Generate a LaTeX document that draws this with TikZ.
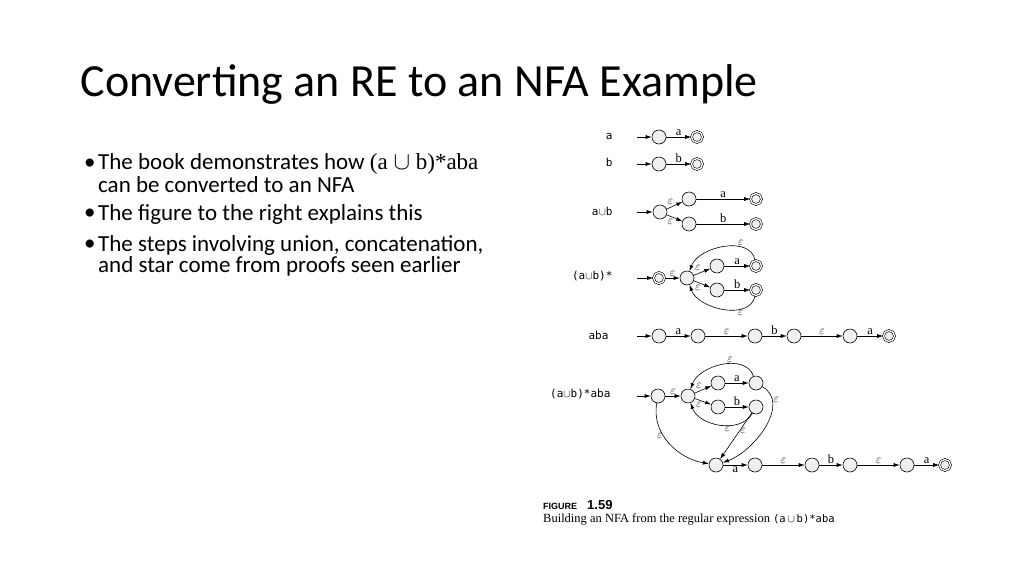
\documentclass[tikz,border=0pt]{standalone}
\usepackage{fontspec}
\setmainfont{Carlito}
\newfontfamily\figmono{DejaVu Sans Mono}
\newfontfamily\figserif{Liberation Serif}
\newfontfamily\figsans{Liberation Sans}
\usetikzlibrary{arrows.meta, positioning}

\tikzset{
  st/.style={circle, draw, fill=gray!12, minimum size=14pt, inner sep=0pt, line width=0.6pt},
  acc/.style={st, double, double distance=1.3pt, minimum size=11pt},
  tr/.style={-{Latex[length=6pt,width=4pt]}, line width=0.6pt},
  lbl/.style={font=\figserif\fontsize{12.5}{12.5}\selectfont, inner sep=1pt},
  rowname/.style={font=\figmono\fontsize{11}{11}\selectfont, anchor=east}
}

\begin{document}
\begin{tikzpicture}[x=1pt, y=-1pt]
  \useasboundingbox (0,0) rectangle (1024,576);

  % title and bullets
  \node[anchor=west, font=\fontsize{46}{46}\selectfont] (title) at (77,84) {Converting an RE to an NFA Example};
  \begin{scope}[every node/.style={anchor=west, font=\fontsize{23}{23}\selectfont, inner sep=0pt}]
    \node (b1) at (84,164) {\textbullet};
    \node (t1) at (98,164) {The book demonstrates how {\figserif (a $\cup$ b)*aba}};
    \node (t1b) at (98,185) {can be converted to an NFA};
    \node (b2) at (84,214) {\textbullet};
    \node (t2) at (98,214) {The figure to the right explains this};
    \node (b3) at (84,245) {\textbullet};
    \node (t3) at (98,245) {The steps involving union, concatenation,};
    \node (t3b) at (98,266) {and star come from proofs seen earlier};
  \end{scope}

  % row: a
  \node[rowname] (na) at (616,136) {a};
  \node[st] (a1) at (659,137) {};
  \node[acc] (a2) at (697,137) {};
  \coordinate (as) at (637,137);
  \draw[tr] (as) -- (a1);
  \draw[tr] (a1) -- node[lbl, above] {a} (a2);

  % row: b
  \node[rowname] (nb) at (616,162) {b};
  \node[st] (b1s) at (659,164) {};
  \node[acc] (b2s) at (697,164) {};
  \coordinate (bs) at (637,164);
  \draw[tr] (bs) -- (b1s);
  \draw[tr] (b1s) -- node[lbl, above] {b} (b2s);

  % row: a U b
  \node[rowname] (nu) at (616,211) {a$\cup$b};
  \node[st] (u0) at (660,212) {};
  \node[st] (u1) at (689,199) {};
  \node[acc] (u2) at (756,199) {};
  \node[st] (u3) at (689,224) {};
  \node[acc] (u4) at (756,224) {};
  \coordinate (us) at (637,212);
  \draw[tr] (us) -- (u0);
  \draw[tr] (u0) -- node[lbl, above left] {$\varepsilon$} (u1);
  \draw[tr] (u0) -- node[lbl, below left] {$\varepsilon$} (u3);
  \draw[tr] (u1) -- node[lbl, above] {a} (u2);
  \draw[tr] (u3) -- node[lbl, above] {b} (u4);

  % row: (a U b)*
  \node[rowname] (ns) at (616,276) {(a$\cup$b)*};
  \node[acc] (s0) at (659,278) {};
  \node[st] (s1) at (687,278) {};
  \node[st] (s2) at (717,266) {};
  \node[acc] (s3) at (756,266) {};
  \node[st] (s4) at (717,290) {};
  \node[acc] (s5) at (756,290) {};
  \coordinate (ss) at (637,278);
  \draw[tr] (ss) -- (s0);
  \draw[tr] (s0) -- node[lbl, above] {$\varepsilon$} (s1);
  \draw[tr] (s1) -- node[lbl, above left] {$\varepsilon$} (s2);
  \draw[tr] (s1) -- node[lbl, below left] {$\varepsilon$} (s4);
  \draw[tr] (s2) -- node[lbl, above] {a} (s3);
  \draw[tr] (s4) -- node[lbl, above] {b} (s5);
  \draw[tr] (s3) to[out=100, in=70] node[lbl, above, pos=0.3] {$\varepsilon$} (s1);
  \draw[tr] (s5) to[out=-100, in=-70] node[lbl, below, pos=0.3] {$\varepsilon$} (s1);

  % row: aba
  \node[rowname] (nc) at (612,335) {aba};
  \node[st] (c1) at (659,336) {};
  \node[st] (c2) at (698,336) {};
  \node[st] (c3) at (755,336) {};
  \node[st] (c4) at (794,336) {};
  \node[st] (c5) at (850,336) {};
  \node[acc] (c6) at (889,336) {};
  \coordinate (cs) at (637,336);
  \draw[tr] (cs) -- (c1);
  \draw[tr] (c1) -- node[lbl, above] {a} (c2);
  \draw[tr] (c2) -- node[lbl, above] {$\varepsilon$} (c3);
  \draw[tr] (c3) -- node[lbl, above] {b} (c4);
  \draw[tr] (c4) -- node[lbl, above] {$\varepsilon$} (c5);
  \draw[tr] (c5) -- node[lbl, above] {a} (c6);

  % row: (a U b)*aba
  \node[rowname] (nd) at (614,394) {(a$\cup$b)*aba};
  \node[st] (d0) at (658,396) {};
  \node[st] (d1) at (688,396) {};
  \node[st] (d2) at (718,383) {};
  \node[st] (d3) at (756,383) {};
  \node[st] (d4) at (718,407) {};
  \node[st] (d5) at (756,407) {};
  \node[st] (e1) at (716,465) {};
  \node[st] (e2) at (755,465) {};
  \node[st] (e3) at (812,465) {};
  \node[st] (e4) at (850,465) {};
  \node[st] (e5) at (907,465) {};
  \node[acc] (e6) at (945,465) {};
  \coordinate (ds) at (637,396);
  \draw[tr] (ds) -- (d0);
  \draw[tr] (d0) -- node[lbl, above] {$\varepsilon$} (d1);
  \draw[tr] (d1) -- node[lbl, above left] {$\varepsilon$} (d2);
  \draw[tr] (d1) -- node[lbl, below left] {$\varepsilon$} (d4);
  \draw[tr] (d2) -- node[lbl, above] {a} (d3);
  \draw[tr] (d4) -- node[lbl, above] {b} (d5);
  \draw[tr] (d3) to[out=110, in=70] node[lbl, above, pos=0.4] {$\varepsilon$} (d1);
  \draw[tr] (d5) to[out=-120, in=-70] node[lbl, below, pos=0.4] {$\varepsilon$} (d1);
  \draw[tr] (d3) to[out=-30, in=20] node[lbl, right, pos=0.2] {$\varepsilon$} (e1);
  \draw[tr] (d5) -- node[lbl, right, pos=0.4] {$\varepsilon$} (e1);
  \draw[tr] (d0) to[out=-100, in=170] node[lbl, left, pos=0.4] {$\varepsilon$} (e1);
  \draw[tr] (e1) -- node[lbl, below] {a} (e2);
  \draw[tr] (e2) -- node[lbl, above] {$\varepsilon$} (e3);
  \draw[tr] (e3) -- node[lbl, above] {b} (e4);
  \draw[tr] (e4) -- node[lbl, above] {$\varepsilon$} (e5);
  \draw[tr] (e5) -- node[lbl, above] {a} (e6);

  % caption
  \node[anchor=west, inner sep=0pt, font=\figsans\bfseries\fontsize{9}{9}\selectfont] (fig) at (543,505) {FIGURE\hspace{10pt}{\fontsize{13}{13}\selectfont 1.59}};
  \node[anchor=west, inner sep=0pt, font=\figserif\fontsize{12.5}{12.5}\selectfont] (cap) at (543,519) {Building an NFA from the regular expression {\figmono\fontsize{10.5}{10.5}\selectfont (a$\,\cup\,$b)*aba}};
\end{tikzpicture}
\end{document}
